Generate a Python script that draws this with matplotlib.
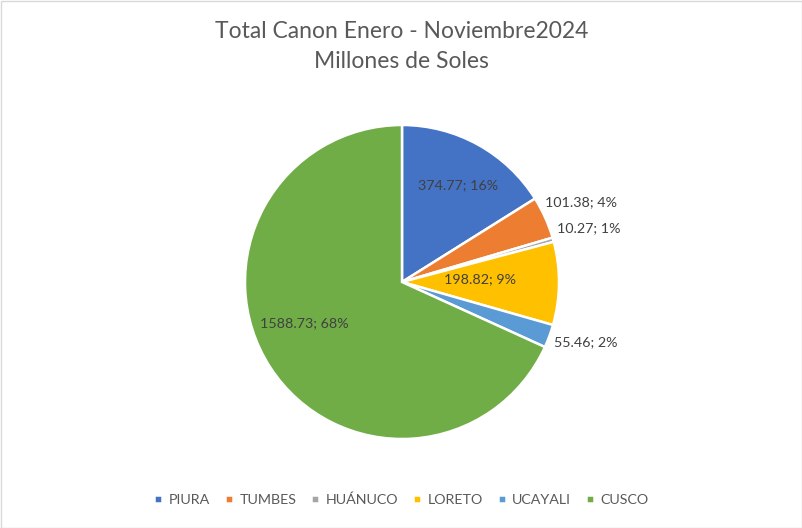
import matplotlib
matplotlib.use("Agg")
import matplotlib.pyplot as plt
from matplotlib.patches import Rectangle

regions = ["PIURA", "TUMBES", "HUÁNUCO", "LORETO", "UCAYALI", "CUSCO"]
canon = [374.77, 101.38, 10.27, 198.82, 55.46, 1588.73]
pct_labels = ["16%", "4%", "1%", "9%", "2%", "68%"]
colors = ["#4472C4", "#ED7D31", "#A5A5A5", "#FFC000", "#5B9BD5", "#70AD47"]

# label anchor (x, y, ha) in pie units, radius 1
label_pos = [
    (0.36, 0.62, "center"),
    (0.91, 0.51, "left"),
    (0.99, 0.34, "left"),
    (0.50, 0.02, "center"),
    (0.97, -0.38, "left"),
    (-0.62, -0.26, "center"),
]

plt.rcParams["font.family"] = ["Lato", "DejaVu Sans"]

W, H = 803, 528
fig = plt.figure(figsize=(W / 100, H / 100), dpi=100)
fig.patch.set_facecolor("white")
fig.add_artist(Rectangle((0.5 / W, 0.5 / H), 1 - 1.5 / W, 1 - 1.5 / H,
                         transform=fig.transFigure, fill=False,
                         edgecolor="#D9D9D9", linewidth=1))

cx, cy, r = 402, 282, 157
ax = fig.add_axes([(cx - r) / W, (H - cy - r) / H, 2 * r / W, 2 * r / H])
wedges, _ = ax.pie(canon, colors=colors, startangle=90, counterclock=False,
                   radius=1, wedgeprops=dict(edgecolor="white", linewidth=1.8))
ax.set_xlim(-1, 1)
ax.set_ylim(-1, 1)
ax.set_aspect("equal")
ax.axis("off")

for v, pct, (x, y, ha) in zip(canon, pct_labels, label_pos):
    ax.text(x, y, f"{v:.2f}; {pct}", ha=ha, va="center",
            fontsize=10.3, color="#404040", clip_on=False)

fig.text(0.5, 1 - 32 / H, "Total Canon Enero - Noviembre2024",
         ha="center", va="center", fontsize=16.5, color="#595959")
fig.text(0.5, 1 - 62 / H, "Millones de Soles",
         ha="center", va="center", fontsize=16.5, color="#595959")

fig.legend(wedges, regions, loc="center", bbox_to_anchor=(0.5, 1 - 500 / H),
           ncol=6, frameon=False, fontsize=10.3, labelcolor="#595959",
           handlelength=0.55, handleheight=0.55, handletextpad=0.45,
           columnspacing=1.05)

fig.savefig("out.png", dpi=100, facecolor="white")
